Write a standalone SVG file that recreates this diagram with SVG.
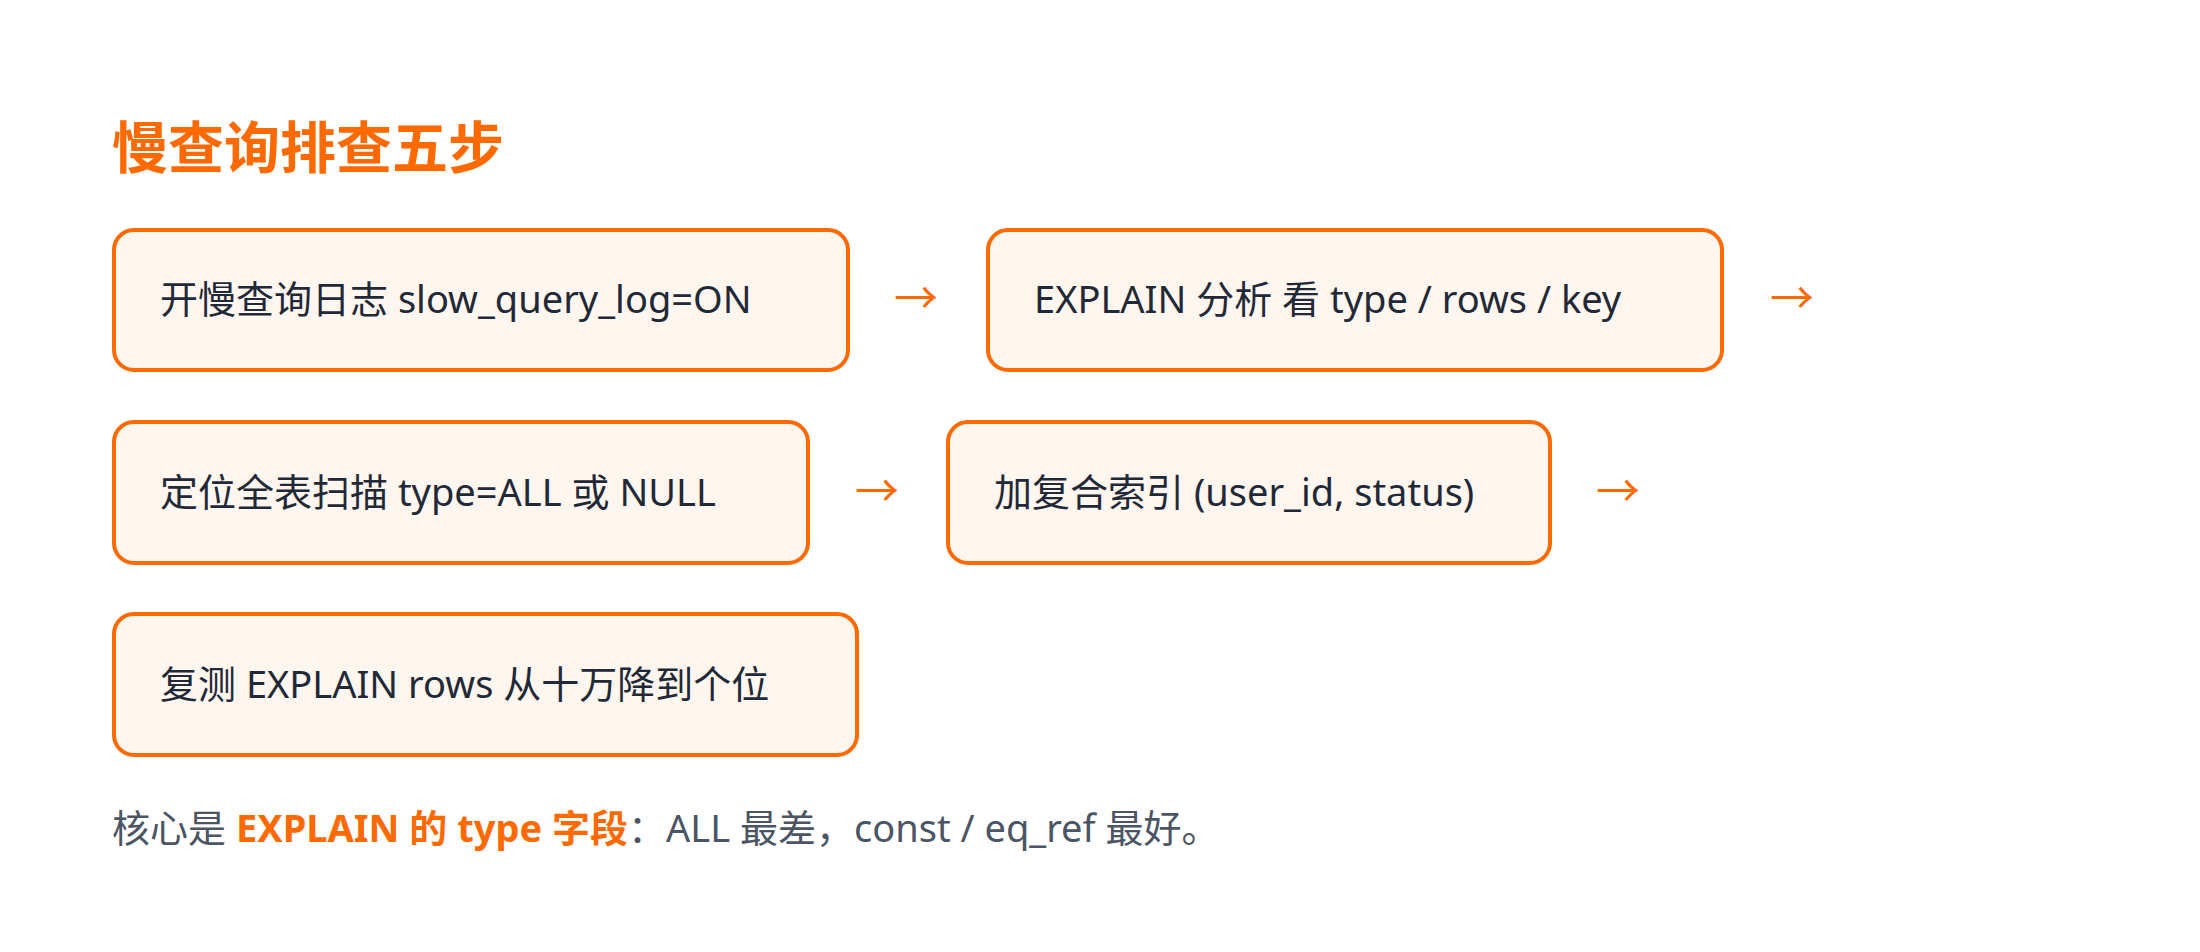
<svg xmlns="http://www.w3.org/2000/svg" width="2200" height="952" viewBox="0 0 2200 952">
<style>
.box{fill:#FFF6EF;stroke:#FF6A00;stroke-width:4}
.t{font-family:"Noto Sans","Noto Sans CJK SC",sans-serif;font-size:38px;fill:#1f2937}
.arr{font-family:"Noto Sans","Noto Sans CJK SC",sans-serif;font-size:44px;fill:#FF6A00}
.title{font-family:"Noto Sans CJK SC",sans-serif;font-size:56px;font-weight:bold;fill:#FF6A00}
.foot{font-family:"Noto Sans","Noto Sans CJK SC",sans-serif;font-size:38px;fill:#4b5563}
.hl{font-weight:bold;fill:#FF6A00}
</style>
<rect width="2200" height="952" fill="#fff"/>
<text class="title" x="112" y="168">慢查询排查五步</text>
<g id="n1"><rect class="box" x="114" y="230" width="734" height="140" rx="20"/><text class="t" x="160" y="313">开慢查询日志 slow_query_log=ON</text></g>
<g id="n2"><rect class="box" x="988" y="230" width="734" height="140" rx="20"/><text class="t" x="1034" y="313">EXPLAIN 分析 看 type / rows / key</text></g>
<g id="n3"><rect class="box" x="114" y="422" width="694" height="141" rx="20"/><text class="t" x="160" y="506">定位全表扫描 type=ALL 或 NULL</text></g>
<g id="n4"><rect class="box" x="948" y="422" width="602" height="141" rx="20"/><text class="t" x="994" y="506">加复合索引 (user_id, status)</text></g>
<g id="n5"><rect class="box" x="114" y="614" width="743" height="141" rx="20"/><text class="t" x="160" y="698">复测 EXPLAIN rows 从十万降到个位</text></g>
<g id="connectors">
<text class="arr" x="916" y="314" text-anchor="middle">→</text>
<text class="arr" x="1792" y="314" text-anchor="middle">→</text>
<text class="arr" x="877" y="507" text-anchor="middle">→</text>
<text class="arr" x="1618" y="507" text-anchor="middle">→</text>
</g>
<text class="foot" x="112" y="842">核心是 <tspan class="hl">EXPLAIN 的 type 字段</tspan>：ALL 最差，const / eq_ref 最好。</text>
</svg>
